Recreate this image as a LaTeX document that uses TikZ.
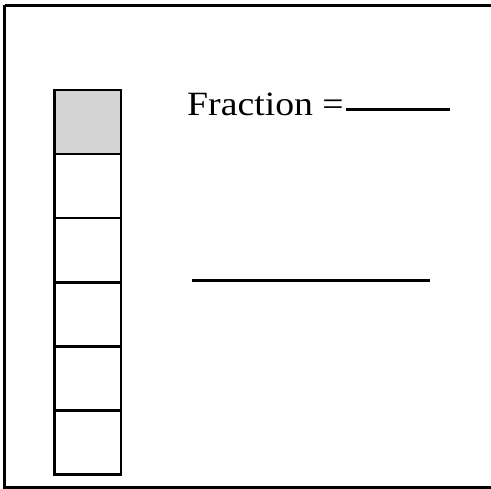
\documentclass[tikz,border=0pt]{standalone}
\usepackage{fontspec}
\setmainfont{Liberation Serif}
\begin{document}
\begin{tikzpicture}[x=1pt,y=-1pt,
  framestyle/.style={draw=black,line width=3pt},
  cellstyle/.style={draw=black,line width=2.6pt},
  blankline/.style={draw=black,line width=2.2pt},
  shadefill/.style={fill=black!17}]
\useasboundingbox (0,0) rectangle (491,489);
% outer frame (right side runs beyond the picture)
\draw[framestyle] (4.5,5.5) -- (540,5.5);
\draw[framestyle] (4.5,5.5) -- (4.5,487.5) -- (540,487.5);
% column of six cells
\fill[shadefill] (54.5,90) rectangle (121,154.1);
\foreach \i in {0,...,5}{
  \draw[cellstyle] (54.5,{90+64.1*\i}) rectangle (121,{90+64.1*(\i+1)});
}
% text and blank lines
\node[anchor=base west,inner sep=0pt,xscale=1.11,font=\fontsize{34}{39}\selectfont] (frac) at (187,116) {Fraction =};
\coordinate (l1a) at (346,109.5);
\coordinate (l1b) at (450,109.5);
\draw[blankline] (l1a) -- (l1b);
\coordinate (l2a) at (192,280.5);
\coordinate (l2b) at (429.5,280.5);
\draw[blankline] (l2a) -- (l2b);
\end{tikzpicture}
\end{document}
